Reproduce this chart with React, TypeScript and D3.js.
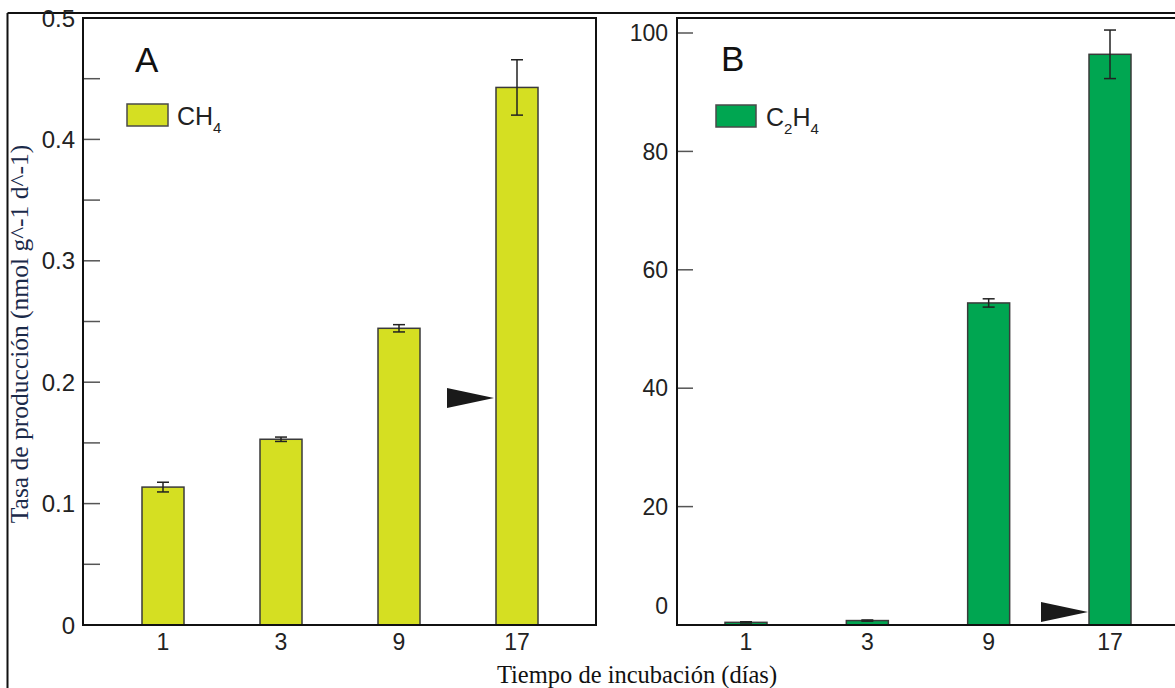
import React from "react";
import * as d3 from "d3";

const days = ["1", "3", "9", "17"];
const ch4Values = [0.1136, 0.153, 0.2444, 0.4428];
const ch4Errors = [0.004, 0.0018, 0.003, 0.0228];
const c2h4Values = [0.45, 0.75, 54.4, 96.4];
const c2h4Errors = [0.1, 0.1, 0.7, 4.1];
const ticksA = [0, 0.1, 0.2, 0.3, 0.4, 0.5];
const minorTicksA = [0.05, 0.15, 0.25, 0.35, 0.45];
const ticksB = [20, 40, 60, 80, 100];
const arrowA = { day: "17", value: 0.187 };
const arrowB = { day: "17", value: 2.2 };

const SANS = "'Liberation Sans', Arial, sans-serif";
const SERIF = "'Liberation Serif', 'Times New Roman', serif";

export default function App() {
  const bottom = 625;
  const top = 18;
  const yA = d3.scaleLinear().domain([0, 0.5]).range([bottom, top]);
  const yB = d3.scaleLinear().domain([0, 100]).range([bottom, 33]);
  const xA = d3.scalePoint<string>().domain(days).range([163, 517]);
  const xB = d3.scalePoint<string>().domain(days).range([746, 1110]);
  const barW = 42;
  const capW = 12;
  const yellow = "#d5df22";
  const green = "#00a651";

  const fmtA = (v: number) => (v === 0 ? "0" : d3.format(".1f")(v));

  const bars = (
    vals: number[],
    errs: number[],
    x: d3.ScalePoint<string>,
    y: d3.ScaleLinear<number, number>,
    fill: string
  ) =>
    days.map((d, i) => {
      const cx = x(d) as number;
      return (
        <g key={d}>
          <rect
            x={cx - barW / 2}
            y={y(vals[i])}
            width={barW}
            height={y(0) - y(vals[i])}
            fill={fill}
            stroke="#3a3a3a"
            strokeWidth={1.5}
          />
          <line x1={cx} x2={cx} y1={y(vals[i] + errs[i])} y2={y(vals[i] - errs[i])} stroke="#222" strokeWidth={1.5} />
          <line x1={cx - capW / 2} x2={cx + capW / 2} y1={y(vals[i] + errs[i])} y2={y(vals[i] + errs[i])} stroke="#222" strokeWidth={1.5} />
          <line x1={cx - capW / 2} x2={cx + capW / 2} y1={y(vals[i] - errs[i])} y2={y(vals[i] - errs[i])} stroke="#222" strokeWidth={1.5} />
        </g>
      );
    });

  const arrow = (tipX: number, tipY: number) => (
    <path d={`M${tipX},${tipY} L${tipX - 47},${tipY - 10} L${tipX - 47},${tipY + 10} Z`} fill="#1a1a1a" />
  );

  const aLeft = 83, aRight = 596, bLeft = 677, bRight = 1185;

  return (
    <svg width={1175} height={688} style={{ position: "absolute", left: 0, top: 0, background: "#fff" }}>
      <rect x={0} y={0} width={1175} height={688} fill="#fff" />
      {/* outer frame */}
      <line x1={7.5} x2={1180} y1={13} y2={13} stroke="#111" strokeWidth={2} />
      <line x1={7.5} x2={7.5} y1={13} y2={700} stroke="#111" strokeWidth={2} />

      {/* Panel A */}
      {bars(ch4Values, ch4Errors, xA, yA, yellow)}
      {ticksA.concat(minorTicksA).map((t) => (
        <line key={"ta" + t} x1={aLeft} x2={aLeft + 17} y1={yA(t)} y2={yA(t)} stroke="#555" strokeWidth={1.5} />
      ))}
      {ticksA.map((t) => (
        <text key={"la" + t} x={aLeft - 8} y={yA(t)} dy="0.36em" textAnchor="end" fontFamily={SANS} fontSize={24} fill="#222">
          {fmtA(t)}
        </text>
      ))}
      <rect x={aLeft} y={top} width={aRight - aLeft} height={bottom - top} fill="none" stroke="#111" strokeWidth={2} />
      {days.map((d) => (
        <text key={"xa" + d} x={xA(d)} y={bottom + 25} textAnchor="middle" fontFamily={SANS} fontSize={23} fill="#222">
          {d}
        </text>
      ))}
      <text x={135} y={72} fontFamily={SANS} fontSize={35} fill="#111">A</text>
      <rect x={127} y={104} width={41} height={22} fill={yellow} stroke="#4a4a4a" strokeWidth={1.5} />
      <text x={177} y={125} fontFamily={SANS} fontSize={25} fill="#222">
        CH<tspan fontSize={15} dy={8}>4</tspan>
      </text>
      {arrow((xA(arrowA.day) as number) - barW / 2 - 2, yA(arrowA.value))}

      {/* Panel B */}
      {bars(c2h4Values, c2h4Errors, xB, yB, green)}
      {ticksB.map((t) => (
        <line key={"tb" + t} x1={bLeft} x2={bLeft + 16} y1={yB(t)} y2={yB(t)} stroke="#555" strokeWidth={1.5} />
      ))}
      {ticksB.map((t) => (
        <text key={"lb" + t} x={bLeft - 9} y={yB(t)} dy="0.36em" textAnchor="end" fontFamily={SANS} fontSize={23} fill="#222">
          {t}
        </text>
      ))}
      <text x={bLeft - 9} y={yB(0) - 19} dy="0.36em" textAnchor="end" fontFamily={SANS} fontSize={23} fill="#222">0</text>
      <rect x={bLeft} y={top} width={bRight - bLeft} height={bottom - top} fill="none" stroke="#111" strokeWidth={2} />
      {days.map((d) => (
        <text key={"xb" + d} x={xB(d)} y={bottom + 25} textAnchor="middle" fontFamily={SANS} fontSize={23} fill="#222">
          {d}
        </text>
      ))}
      <text x={721} y={71} fontFamily={SANS} fontSize={35} fill="#111">B</text>
      <rect x={716} y={105} width={40} height={22} fill={green} stroke="#4a4a4a" strokeWidth={1.5} />
      <text x={766} y={126} fontFamily={SANS} fontSize={25} fill="#222">
        C<tspan fontSize={15} dy={8}>2</tspan>
        <tspan dy={-8}>H</tspan>
        <tspan fontSize={15} dy={8}>4</tspan>
      </text>
      {arrow((xB(arrowB.day) as number) - barW / 2 - 1, yB(arrowB.value))}

      {/* Axis titles */}
      <text transform="translate(28,334) rotate(-90)" textAnchor="middle" fontFamily={SERIF} fontSize={25.5} fill="#1b2a4a">
        Tasa de producción (nmol g^-1 d^-1)
      </text>
      <text x={637} y={683} textAnchor="middle" fontFamily={SERIF} fontSize={24.5} fill="#111">
        Tiempo de incubación (días)
      </text>
    </svg>
  );
}
